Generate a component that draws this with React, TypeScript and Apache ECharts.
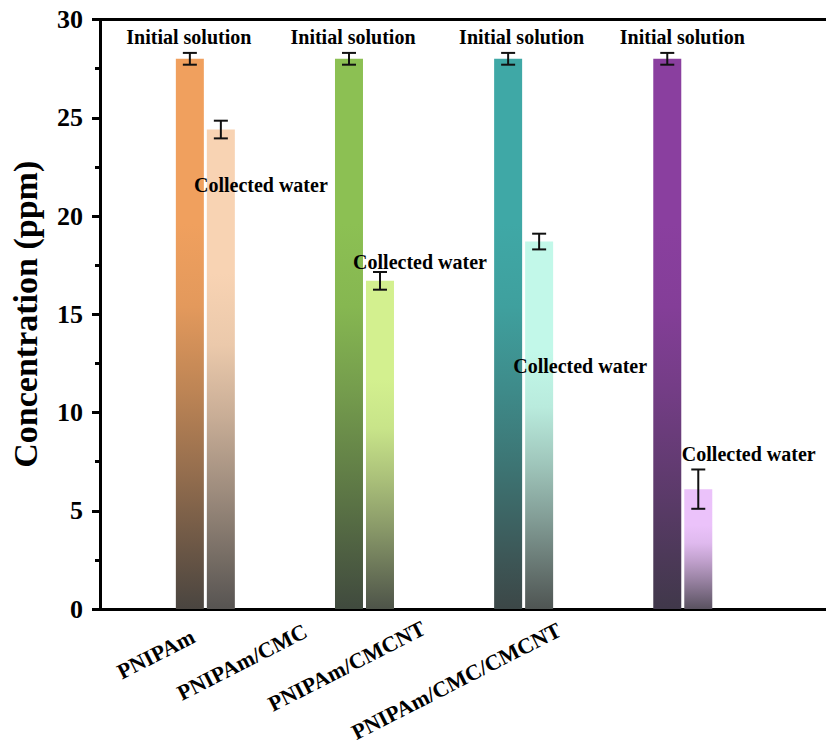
import React, { useEffect, useRef } from "react";
import * as echarts from "echarts";

// Samples and measured concentrations (ppm)
const categories = ["PNIPAm", "PNIPAm/CMC", "PNIPAm/CMCNT", "PNIPAm/CMC/CMCNT"];
const initialConc = [28.0, 28.0, 28.0, 28.0];
const initialErr = [0.3, 0.3, 0.3, 0.3];
const collectedConc = [24.4, 16.7, 18.7, 6.1];
const collectedErr = [0.45, 0.45, 0.4, 1.0];

// Bar fill colours (top colour, fades to a dark grey at the base)
const initialColors = ["#F0A05E", "#8CC053", "#3FA8A6", "#8A3F9F"];
const initialBase = ["#4A4540", "#404A3E", "#3C4747", "#40384A"];
const collectedColors = ["#F8D3B3", "#D3F08F", "#C2F8E9", "#EBC2FA"];
const collectedBase = ["#575452", "#4E5449", "#4F5553", "#5A5260"];

const annotationInitial = "Initial solution";
const annotationCollected = "Collected water";

// Annotation placement (value units for height, pixels for horizontal shift)
const initialLabelY = 29.1;
const initialLabelShift = [-16.5, -11.5, -2, -0.5];
const collectedLabelY = [21.58, 17.66, 12.37, 7.9];
const collectedLabelShift = [55.5, 55.5, 56.5, 66];
const tickLabelShift: [number, number][] = [
  [-49.5, 45],
  [-122.5, 53],
  [-177, 57],
  [-226.5, 72],
];

const SERIF = '"Liberation Serif", "Times New Roman", serif';

function hexToRgb(h: string) {
  const n = parseInt(h.slice(1), 16);
  return [(n >> 16) & 255, (n >> 8) & 255, n & 255];
}
function mix(a: string, b: string, t: number) {
  const A = hexToRgb(a);
  const B = hexToRgb(b);
  const c = A.map((v, k) => Math.round(v + (B[k] - v) * t));
  return `rgb(${c[0]},${c[1]},${c[2]})`;
}

export default function App() {
  const ref = useRef<HTMLDivElement>(null);

  useEffect(() => {
    if (!ref.current) return;
    const chart = echarts.init(ref.current, undefined, { renderer: "svg" });

    const data = categories.map((_, i) => [
      i + 1,
      initialConc[i],
      initialErr[i],
      collectedConc[i],
      collectedErr[i],
    ]);

    const barW = 28;
    const gap = 3;
    const cap = 7;

    // smooth fade from the bar colour to dark grey over the lower part of the bar
    const grad = (top: string, bottom: string) =>
      new echarts.graphic.LinearGradient(0, 0, 0, 1, [
        { offset: 0, color: top },
        { offset: 0.3, color: top },
        { offset: 0.45, color: mix(top, bottom, 0.08) },
        { offset: 0.6, color: mix(top, bottom, 0.3) },
        { offset: 0.75, color: mix(top, bottom, 0.55) },
        { offset: 0.9, color: mix(top, bottom, 0.82) },
        { offset: 1, color: bottom },
      ]);

    const errorBar = (api: any, x: number, v: number, e: number, cx: number) => {
      const hi = api.coord([x, v + e])[1];
      const lo = api.coord([x, v - e])[1];
      const style = { stroke: "#111", lineWidth: 2 };
      return [
        { type: "line", shape: { x1: cx, y1: hi, x2: cx, y2: lo }, style },
        { type: "line", shape: { x1: cx - cap, y1: hi, x2: cx + cap, y2: hi }, style },
        { type: "line", shape: { x1: cx - cap, y1: lo, x2: cx + cap, y2: lo }, style },
      ];
    };

    const renderItem = (params: any, api: any) => {
      const i = params.dataIndex;
      const x = api.value(0);
      const vInit = api.value(1);
      const eInit = api.value(2);
      const vCol = api.value(3);
      const eCol = api.value(4);
      const [center, y0] = api.coord([x, 0]);
      const yInit = api.coord([x, vInit])[1];
      const yCol = api.coord([x, vCol])[1];

      const xInit = center - gap / 2 - barW;
      const xCol = center + gap / 2;

      const children: any[] = [
        {
          type: "rect",
          shape: { x: xInit, y: yInit, width: barW, height: y0 - yInit },
          style: { fill: grad(initialColors[i], initialBase[i]) },
        },
        {
          type: "rect",
          shape: { x: xCol, y: yCol, width: barW, height: y0 - yCol },
          style: { fill: grad(collectedColors[i], collectedBase[i]) },
        },
        ...errorBar(api, x, vInit, eInit, xInit + barW / 2),
        ...errorBar(api, x, vCol, eCol, xCol + barW / 2),
        {
          type: "text",
          x: center + initialLabelShift[i],
          y: api.coord([x, initialLabelY])[1],
          style: {
            text: annotationInitial,
            fill: "#000",
            fontFamily: SERIF,
            fontWeight: "bold",
            fontSize: 20,
            align: "center",
            verticalAlign: "middle",
          },
        },
        {
          type: "text",
          x: center + collectedLabelShift[i],
          y: api.coord([x, collectedLabelY[i]])[1],
          style: {
            text: annotationCollected,
            fill: "#000",
            fontFamily: SERIF,
            fontWeight: "bold",
            fontSize: 20,
            align: "center",
            verticalAlign: "middle",
          },
        },
        {
          type: "text",
          x: center + tickLabelShift[i][0],
          y: y0 + tickLabelShift[i][1],
          rotation: (27 * Math.PI) / 180,
          style: {
            text: categories[i],
            fill: "#000",
            fontFamily: SERIF,
            fontWeight: "bold",
            fontSize: 22,
            align: "center",
            verticalAlign: "middle",
          },
        },
      ];
      return { type: "group", children };
    };

    const axisLine = { show: true, lineStyle: { color: "#000", width: 3 } };

    chart.setOption({
      animation: false,
      backgroundColor: "#fff",
      grid: { left: 99, right: 0, top: 19.5, bottom: 144 },
      xAxis: [
        {
          type: "value",
          position: "bottom",
          min: 0.338,
          max: 4.9,
          axisLine: { ...axisLine, onZero: false },
          axisTick: { show: false },
          axisLabel: { show: false },
          splitLine: { show: false },
        },
        {
          type: "value",
          position: "top",
          min: 0.338,
          max: 4.9,
          axisLine: { ...axisLine, onZero: false },
          axisTick: { show: false },
          axisLabel: { show: false },
          splitLine: { show: false },
        },
      ],
      yAxis: {
        type: "value",
        min: 0,
        max: 30,
        interval: 5,
        name: "Concentration (ppm)",
        nameLocation: "middle",
        nameGap: 58,
        nameTextStyle: {
          fontFamily: SERIF,
          fontWeight: "bold",
          fontSize: 34,
          color: "#000",
        },
        axisLine: { ...axisLine, onZero: false },
        axisTick: {
          show: true,
          inside: false,
          length: 8,
          lineStyle: { color: "#000", width: 3 },
        },
        minorTick: {
          show: true,
          splitNumber: 2,
          length: 5,
          lineStyle: { color: "#000", width: 3 },
        },
        axisLabel: {
          fontFamily: SERIF,
          fontWeight: "bold",
          fontSize: 26,
          color: "#000",
          margin: 17,
        },
        splitLine: { show: false },
      },
      series: [
        {
          type: "custom",
          renderItem,
          data,
          encode: { x: 0, y: [1, 3] },
          clip: false,
          z: 5,
        },
      ],
    });

    return () => chart.dispose();
  }, []);

  return (
    <div
      ref={ref}
      style={{ position: "fixed", left: 0, top: 0, width: 826, height: 753 }}
    />
  );
}
